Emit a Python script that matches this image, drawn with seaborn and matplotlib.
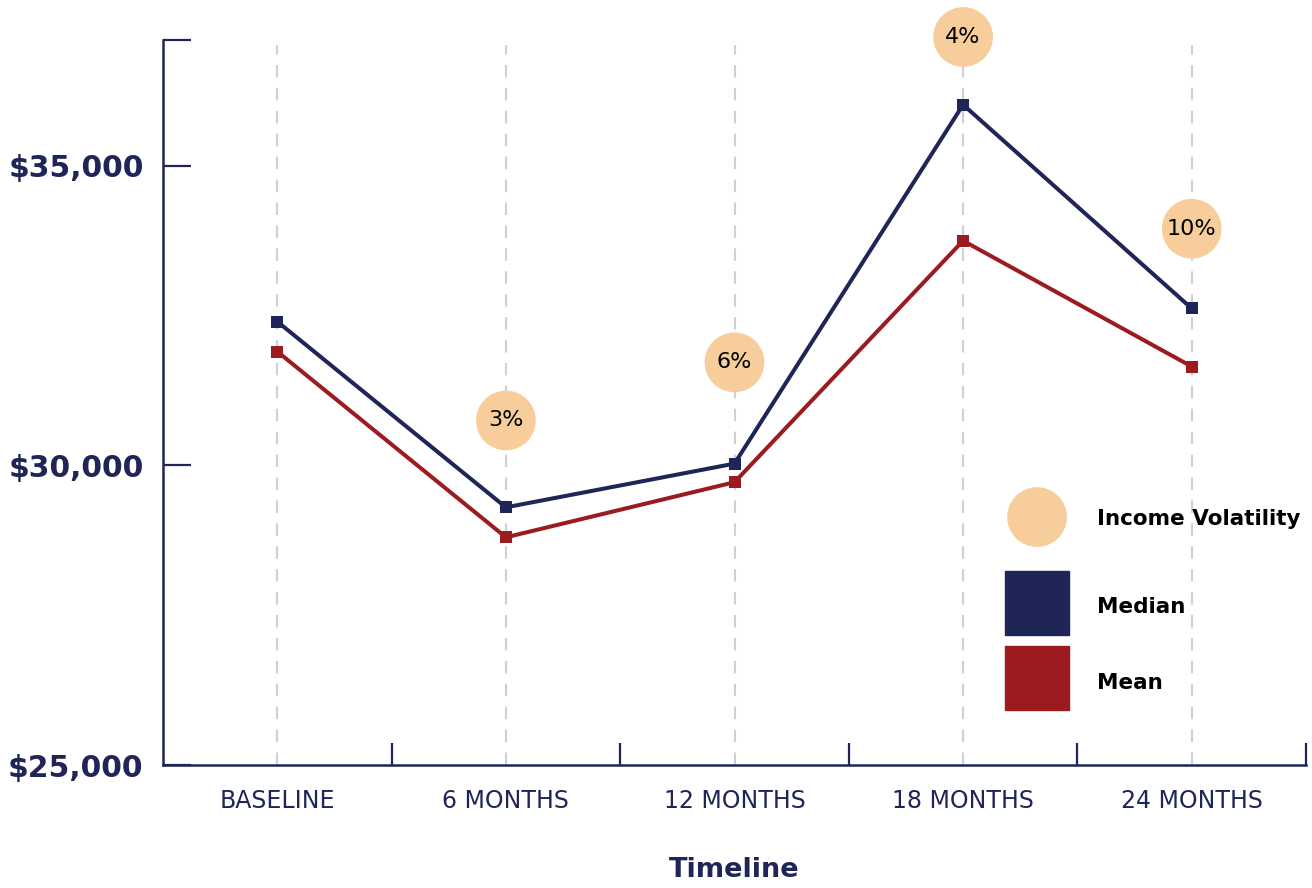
import matplotlib
matplotlib.use("Agg")
import matplotlib.pyplot as plt
from matplotlib.patches import Rectangle
import seaborn as sns
import pandas as pd

# Income over the study timeline
periods = ["BASELINE", "6 MONTHS", "12 MONTHS", "18 MONTHS", "24 MONTHS"]
median_income = [32400, 29300, 30030, 36020, 32620]
mean_income = [31900, 28800, 29720, 33750, 31650]

# Income volatility bubbles: period index, vertical position, label
vol_idx = [1, 2, 3, 4]
vol_pos = [30750, 31720, 37150, 33950]
vol_labels = ["3%", "6%", "4%", "10%"]

y_ticks = [25000, 30000, 35000, 37100]
y_labels = ["$25,000", "$30,000", "$35,000", ""]

NAVY = "#1f2556"
RED = "#9b1b1f"
PEACH = "#f6cd9b"
GRID = "#cdcfdc"

sns.set_theme(style="white")
plt.rcParams["font.family"] = ["DejaVu Sans"]

x = list(range(len(periods)))
df = pd.DataFrame({
    "x": x * 2,
    "income": median_income + mean_income,
    "series": ["Median"] * len(x) + ["Mean"] * len(x),
})

fig = plt.figure(figsize=(13.12, 8.88), dpi=100)
ax = fig.add_axes([163 / 1312, 1 - 765 / 888, (1306 - 163) / 1312, (765 - 40) / 888])

# vertical dashed guides at each period
for xi in x:
    ax.axvline(xi, ymax=0.993, color=GRID, lw=1.5, dashes=(6, 5), zorder=0)

sns.lineplot(data=df, x="x", y="income", hue="series",
             palette={"Median": NAVY, "Mean": RED}, marker="s",
             markersize=8, markeredgewidth=0, linewidth=2.9,
             legend=False, ax=ax, zorder=3)

vol_df = pd.DataFrame({"x": vol_idx, "pos": vol_pos})
sns.scatterplot(data=vol_df, x="x", y="pos", s=1850, color=PEACH,
                edgecolor="none", ax=ax, zorder=4, clip_on=False, legend=False)
for xi, yi, lab in zip(vol_idx, vol_pos, vol_labels):
    ax.text(xi, yi, lab, ha="center", va="center", fontsize=16,
            color="black", zorder=5, clip_on=False)

ax.set_xlim(-0.5, 4.5)
ax.set_ylim(25000, 37100)

ax.set_xticks(x)
ax.set_xticklabels(periods, fontsize=17, color=NAVY)
ax.set_xticks([i + 0.5 for i in range(0, 5)], minor=True)
ax.tick_params(axis="x", which="major", bottom=True, length=0, pad=17)
ax.tick_params(axis="x", which="minor", bottom=True, direction="in",
               length=16, width=1.6, color=NAVY)

ax.set_yticks(y_ticks)
ax.set_yticklabels(y_labels, fontsize=21.5, fontweight="bold", color=NAVY)
ax.tick_params(axis="y", left=True, direction="in", length=20, width=1.6,
               color=NAVY, pad=14)

ax.set_xlabel("Timeline", fontsize=19.5, fontweight="bold", color=NAVY, labelpad=32)
ax.set_ylabel("")

sns.despine(ax=ax, top=True, right=True)
for side in ("left", "bottom"):
    ax.spines[side].set_color(NAVY)
    ax.spines[side].set_linewidth(1.8)

# legend drawn in axes coordinates
ax.scatter([0.7647], [0.342], s=1850, color=PEACH, edgecolor="none",
           transform=ax.transAxes, zorder=6, clip_on=False)
ax.add_patch(Rectangle((0.7367, 0.179), 0.056, 0.0883, color=NAVY,
                       transform=ax.transAxes, zorder=6))
ax.add_patch(Rectangle((0.7367, 0.0759), 0.056, 0.0883, color=RED,
                       transform=ax.transAxes, zorder=6))
for ty, txt in [(0.339, "Income Volatility"), (0.218, "Median"), (0.113, "Mean")]:
    ax.text(0.817, ty, txt, transform=ax.transAxes, ha="left", va="center",
            fontsize=15.5, fontweight="bold", color="black", zorder=6,
            clip_on=False)

fig.savefig("out.png", dpi=100)
